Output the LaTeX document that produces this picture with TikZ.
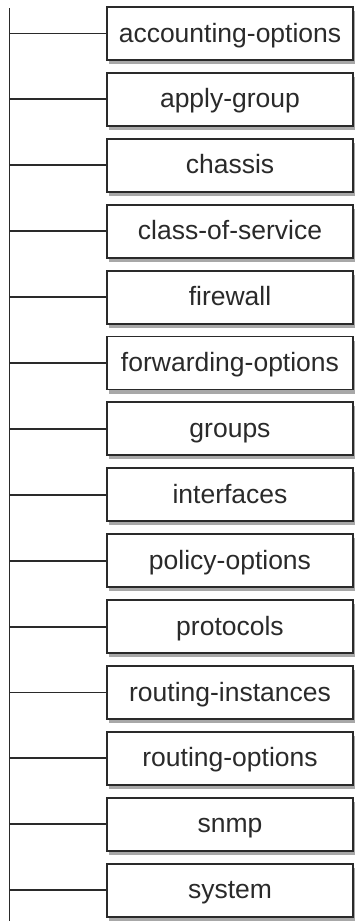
\documentclass[tikz,border=0pt]{standalone}
\usepackage{fontspec}
\setmainfont{Liberation Sans}
\usetikzlibrary{shadows}
\definecolor{ink}{HTML}{2A2A2A}
\definecolor{shade}{HTML}{A8A8A8}
\tikzset{
  item/.style={draw=ink, line width=1.9pt, fill=white, text=ink,
    minimum width=246pt, minimum height=53pt, inner sep=0pt,
    text height=19pt, text depth=2pt,
    font=\fontsize{26.5}{30}\selectfont,
    drop shadow={shadow xshift=2pt, shadow yshift=-4pt, fill=shade, opacity=1}},
  spine/.style={draw=ink, line width=1.9pt},
  link/.style={draw=ink, line width=1.9pt}
}
\begin{document}
\begin{tikzpicture}[x=1pt, y=-1pt]
  \useasboundingbox (0,0) rectangle (355,921);
  \coordinate (top) at (9.5,8);
  \coordinate (bottom) at (9.5,921);
  \draw[spine] (top) -- (bottom);
  \foreach \lbl [count=\i from 0] in {accounting-options, apply-group, chassis,
      class-of-service, firewall, forwarding-options, groups, interfaces,
      policy-options, protocols, routing-instances, routing-options, snmp, system} {
    \node[item] (b\i) at (230, 33.5+65.9*\i) {\lbl};
    \coordinate (s\i) at (9.5, 33.5+65.9*\i);
    \draw[link] (s\i) -- (b\i.west);
  }
\end{tikzpicture}
\end{document}
